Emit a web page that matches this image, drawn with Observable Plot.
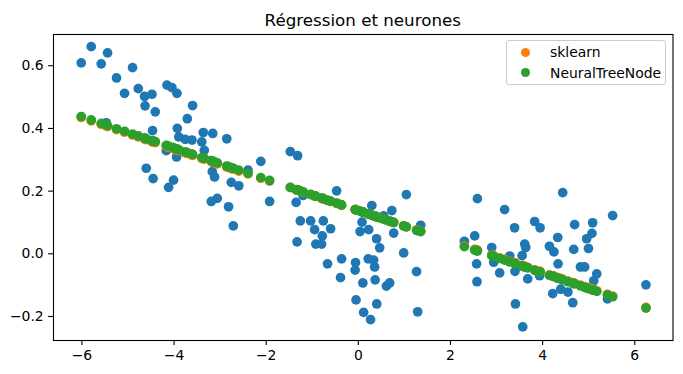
<!DOCTYPE html>
<html>
<head>
<meta charset="utf-8">
<script src="https://cdn.jsdelivr.net/npm/d3@7"></script>
<script src="https://cdn.jsdelivr.net/npm/@observablehq/plot@0.6"></script>
<style>
  html, body { margin: 0; padding: 0; background: white; }
  #wrap { position: relative; width: 683px; height: 374px; font-family: "DejaVu Sans", sans-serif; }
  #title { box-sizing: border-box; height: 33px; margin-left: 53px; width: 619.5px; text-align: center;
           font-size: 16.7px; line-height: 1; padding-top: 11.5px; color: black; white-space: nowrap; }
  #legend { position: absolute; left: 505.5px; top: 40px; width: 160.5px; height: 45px; box-sizing: border-box;
            border: 1px solid #cccccc; border-radius: 3px; background: rgba(255,255,255,0.8); }
  .sw { position: absolute; width: 9px; height: 9px; border-radius: 50%; }
  .lt { position: absolute; font-size: 13.9px; line-height: 20px; color: black; white-space: nowrap; }
</style>
</head>
<body>
<div id="wrap">
  <div id="title"></div>
  <div id="chart"></div>
  <div id="legend"></div>
</div>
<script>
const titleText = "Régression et neurones";
const seriesNames = ["sklearn", "NeuralTreeNode"];
const seriesColors = ["#ff7f0e", "#2ca02c"];
const pointColor = "#1f77b4";
const xTicks = [-6, -4, -2, 0, 2, 4, 6];
const yTicks = [-0.2, 0.0, 0.2, 0.4, 0.6];

// observed points (x)
const xValues = [
  -6.015,-5.798,-5.581,-5.444,-5.249,-5.075,-4.901,-4.777,-4.641,-4.480,
  -4.630,-4.408,-4.467,-5.472,-4.154,-4.046,-3.937,-3.598,-3.713,-3.930,
  -3.898,-3.757,-3.611,-3.366,-3.160,-2.856,-3.398,-3.344,-4.169,-3.945,
  -4.604,-4.455,-4.119,-4.011,-3.170,-3.121,-2.758,-2.595,-2.395,-2.117,
  -1.477,-1.318,-3.192,-3.062,-2.817,-2.714,-1.926,-1.350,-1.260,-1.036,
  -0.760,-0.949,-0.602,-0.782,-0.923,-0.797,-1.330,-0.471,-1.201,0.293,
  0.727,0.549,0.080,0.224,0.037,0.767,0.395,0.463,1.042,1.353,
  0.984,-0.363,-0.669,-0.387,-0.061,-0.070,0.214,0.332,0.354,0.365,
  0.098,0.608,0.680,-0.050,0.400,0.115,0.265,1.264,1.288,2.584,
  3.175,2.302,2.526,3.392,2.895,2.567,2.575,3.286,3.555,3.611,
  3.633,2.938,3.068,3.400,3.676,3.935,3.410,3.568,4.436,3.828,
  3.945,4.148,4.245,4.328,4.335,4.695,5.086,5.071,4.956,4.995,
  4.675,5.520,4.821,4.912,5.175,5.110,4.219,4.393,4.549,4.654,
  5.407,6.243
];
// observed points (y)
const yValues = [
  0.609,0.661,0.606,0.641,0.561,0.512,0.594,0.527,0.502,0.509,
  0.472,0.453,0.393,0.418,0.538,0.530,0.512,0.473,0.431,0.400,
  0.373,0.365,0.363,0.387,0.384,0.367,0.357,0.330,0.329,0.309,
  0.273,0.240,0.212,0.235,0.262,0.245,0.228,0.217,0.267,0.295,
  0.326,0.313,0.167,0.177,0.150,0.089,0.167,0.164,0.105,0.105,
  0.105,0.077,0.080,0.057,0.031,0.031,0.038,0.201,0.186,0.154,
  0.138,0.121,0.101,0.077,0.071,0.066,0.048,0.019,0.189,0.091,
  0.003,-0.016,-0.032,-0.076,-0.028,-0.052,-0.016,-0.020,-0.042,-0.083,
  -0.093,-0.103,-0.093,-0.147,-0.160,-0.187,-0.210,-0.057,-0.185,0.176,
  0.141,0.040,0.057,0.083,0.020,-0.032,-0.089,-0.007,-0.006,0.031,
  0.020,-0.027,-0.061,-0.056,-0.080,-0.070,-0.160,-0.233,0.195,0.103,
  0.083,0.024,0.006,0.052,-0.032,0.093,0.099,0.065,0.048,0.017,
  0.014,0.122,-0.042,-0.042,-0.064,-0.086,-0.127,-0.113,-0.122,-0.156,
  -0.144,-0.099
];
// sklearn predictions at the same x
const sklearnValues = [
  0.435,0.424,0.413,0.406,0.396,0.388,0.379,0.373,0.366,0.358,
  0.366,0.355,0.357,0.408,0.342,0.337,0.331,0.314,0.320,0.331,
  0.329,0.322,0.315,0.303,0.292,0.277,0.304,0.302,0.343,0.331,
  0.364,0.357,0.340,0.335,0.293,0.290,0.272,0.264,0.255,0.241,
  0.211,0.203,0.294,0.287,0.275,0.270,0.232,0.204,0.200,0.189,
  0.175,0.184,0.167,0.176,0.183,0.177,0.203,0.161,0.197,0.123,
  0.102,0.111,0.134,0.127,0.136,0.100,0.118,0.115,0.086,0.072,
  0.089,0.155,0.170,0.157,0.141,0.141,0.127,0.121,0.120,0.120,
  0.133,0.108,0.104,0.140,0.118,0.132,0.125,0.076,0.075,0.011,
  -0.018,0.025,0.014,-0.029,-0.004,0.012,0.012,-0.024,-0.037,-0.040,
  -0.041,-0.006,-0.013,-0.029,-0.043,-0.056,-0.030,-0.038,-0.081,-0.051,
  -0.056,-0.067,-0.071,-0.076,-0.076,-0.094,-0.113,-0.113,-0.107,-0.109,
  -0.093,-0.135,-0.100,-0.105,-0.118,-0.114,-0.070,-0.079,-0.087,-0.092,
  -0.129,-0.171
];
// NeuralTreeNode predictions at the same x
const neuralValues = [
  0.438,0.427,0.416,0.409,0.399,0.391,0.382,0.376,0.369,0.361,
  0.369,0.358,0.360,0.411,0.345,0.340,0.334,0.317,0.323,0.334,
  0.332,0.325,0.318,0.306,0.295,0.280,0.307,0.305,0.346,0.334,
  0.367,0.360,0.343,0.338,0.296,0.293,0.275,0.267,0.257,0.243,
  0.212,0.204,0.297,0.290,0.278,0.273,0.234,0.205,0.201,0.190,
  0.176,0.185,0.168,0.177,0.184,0.178,0.204,0.162,0.198,0.123,
  0.102,0.111,0.134,0.127,0.136,0.100,0.118,0.115,0.086,0.071,
  0.089,0.156,0.171,0.157,0.141,0.141,0.127,0.121,0.120,0.120,
  0.133,0.108,0.104,0.140,0.118,0.132,0.125,0.075,0.074,0.009,
  -0.020,0.023,0.012,-0.031,-0.006,0.010,0.010,-0.026,-0.039,-0.042,
  -0.043,-0.008,-0.015,-0.031,-0.045,-0.058,-0.032,-0.040,-0.083,-0.053,
  -0.058,-0.069,-0.073,-0.078,-0.078,-0.096,-0.115,-0.115,-0.109,-0.111,
  -0.095,-0.137,-0.102,-0.107,-0.120,-0.116,-0.072,-0.081,-0.089,-0.094,
  -0.131,-0.173
];

const n = Math.min(xValues.length, yValues.length, sklearnValues.length, neuralValues.length);
const rows = d3.range(n).map(i => ({x: xValues[i], y: yValues[i], sk: sklearnValues[i], nn: neuralValues[i]}));

document.getElementById("title").textContent = titleText;

const fmtX = d3.format(".0f");
const fmtY = d3.format(".1f");
const R = 4.85;

const chart = Plot.plot({
  width: 683,
  height: 341,
  marginTop: 1,
  marginBottom: 34,
  marginLeft: 53,
  marginRight: 10.5,
  style: {fontFamily: "DejaVu Sans, sans-serif", fontSize: "13.9px", color: "black", background: "white", overflow: "visible"},
  x: {domain: [-6.617, 6.83]},
  y: {domain: [-0.2766, 0.6997]},
  marks: [
    Plot.dot(rows, {x: "x", y: "y", r: R, fill: pointColor, stroke: null}),
    Plot.dot(rows, {x: "x", y: "sk", r: R, fill: seriesColors[0], stroke: null}),
    Plot.dot(rows, {x: "x", y: "nn", r: R, fill: seriesColors[1], stroke: null}),
    Plot.frame({stroke: "black", strokeWidth: 1.1}),
    Plot.axisX(xTicks, {tickSize: 4.9, tickPadding: 4.9, tickFormat: fmtX, label: null, strokeWidth: 1.1}),
    Plot.axisY(yTicks, {tickSize: 4.9, tickPadding: 4.9, tickFormat: fmtY, label: null, strokeWidth: 1.1})
  ]
});
document.getElementById("chart").appendChild(chart);

// legend (inside the axes, upper right)
const legend = document.getElementById("legend");
seriesNames.forEach((name, i) => {
  const cy = 12.3 + i * 20.4;   // relative to legend box
  const sw = document.createElement("div");
  sw.className = "sw";
  sw.style.background = seriesColors[i];
  sw.style.left = (20.2 - 4.5 - 1) + "px";
  sw.style.top = (cy - 4.5 - 1) + "px";
  legend.appendChild(sw);
  const lt = document.createElement("div");
  lt.className = "lt";
  lt.textContent = name;
  lt.style.left = (44.5 - 1) + "px";
  lt.style.top = (cy - 10 - 1) + "px";
  legend.appendChild(lt);
});
</script>
</body>
</html>
